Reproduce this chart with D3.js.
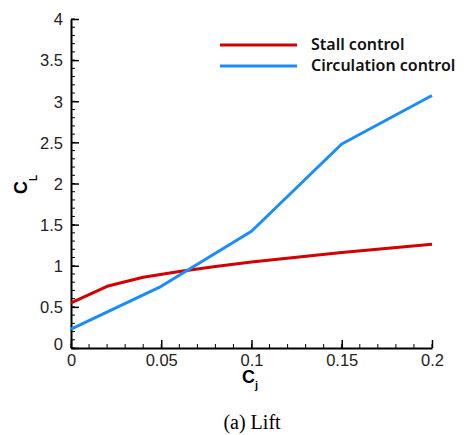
<!DOCTYPE html>
<html>
<head>
<meta charset="utf-8">
<script src="https://cdn.jsdelivr.net/npm/d3@7"></script>
<style>
  body { margin: 0; background: #fff; }
</style>
</head>
<body>
<div id="chart"></div>
<script>
// chart data
const stallX = [0, 0.02, 0.04, 0.06, 0.08, 0.1, 0.15, 0.2];
const stallY = [0.55, 0.75, 0.86, 0.93, 0.99, 1.045, 1.16, 1.26];
const circX = [0, 0.05, 0.1, 0.15, 0.2];
const circY = [0.23, 0.75, 1.42, 2.48, 3.07];
const xTicks = [0, 0.05, 0.1, 0.15, 0.2];
const yTicks = [0, 0.5, 1, 1.5, 2, 2.5, 3, 3.5, 4];
const seriesNames = ["Stall control", "Circulation control"];
const seriesColors = ["#d20000", "#1a8cff"];

const width = 464;
const height = 435;

const svg = d3.select("#chart")
  .append("svg")
  .attr("width", width)
  .attr("height", height);

// scales
const x = d3.scaleLinear().domain([0, 0.2]).range([71, 432]);
const y = d3.scaleLinear().domain([0, 4]).range([348, 19]);

// minor ticks (inward)
const xMinor = d3.range(0, 0.2001, 0.01);
const yMinor = d3.range(0, 4.001, 0.1);

svg.append("g")
  .selectAll("line")
  .data(xMinor)
  .enter()
  .append("line")
  .attr("x1", d => x(d))
  .attr("x2", d => x(d))
  .attr("y1", y(0))
  .attr("y2", y(0) - 4)
  .attr("stroke", "#000")
  .attr("stroke-width", 1);

svg.append("g")
  .selectAll("line")
  .data(yMinor)
  .enter()
  .append("line")
  .attr("x1", x(0))
  .attr("x2", x(0) + 4)
  .attr("y1", d => y(d))
  .attr("y2", d => y(d))
  .attr("stroke", "#000")
  .attr("stroke-width", 1);

// major axes, ticks point into the plot
const xAxis = svg.append("g")
  .attr("transform", `translate(0,${y(0)})`)
  .call(d3.axisBottom(x).tickValues(xTicks).tickSizeInner(-8).tickSizeOuter(0)
    .tickPadding(6).tickFormat(d => String(d)));

const yAxis = svg.append("g")
  .attr("transform", `translate(${x(0)},0)`)
  .call(d3.axisLeft(y).tickValues(yTicks).tickSizeInner(-8).tickSizeOuter(0)
    .tickPadding(8).tickFormat(d => String(d)));

[xAxis, yAxis].forEach(g => {
  g.select(".domain").attr("stroke-width", 2);
  g.selectAll(".tick line").attr("stroke-width", 1.5);
  g.selectAll(".tick text")
    .attr("font-family", "Liberation Sans, Arial, sans-serif")
    .attr("font-size", "16.5px")
    .attr("fill", "#222");
});
yAxis.selectAll(".tick text").attr("dy", "0.35em");
yAxis.selectAll(".tick").filter(d => d === 0).select("text").attr("dy", "0.1em");

// lines
const line = d3.line()
  .x(d => x(d[0]))
  .y(d => y(d[1]));

const series = [
  stallX.map((v, i) => [v, stallY[i]]),
  circX.map((v, i) => [v, circY[i]])
];

svg.selectAll(".series")
  .data(series)
  .enter()
  .append("path")
  .attr("class", "series")
  .attr("d", line)
  .attr("fill", "none")
  .attr("stroke", (d, i) => seriesColors[i])
  .attr("stroke-width", 3)
  .attr("stroke-linejoin", "round");

// legend
const legend = svg.append("g");
legend.selectAll("line")
  .data(seriesNames)
  .enter()
  .append("line")
  .attr("x1", 220)
  .attr("x2", 297)
  .attr("y1", (d, i) => 45 + i * 21)
  .attr("y2", (d, i) => 45 + i * 21)
  .attr("stroke", (d, i) => seriesColors[i])
  .attr("stroke-width", 3);

legend.selectAll("text")
  .data(seriesNames)
  .enter()
  .append("text")
  .attr("x", 311)
  .attr("y", (d, i) => 50 + i * 21)
  .text(d => d)
  .attr("font-family", "Noto Sans, sans-serif")
  .attr("font-weight", "600")
  .attr("font-size", "16px")
  .attr("fill", "#111");

// axis titles
const cl = svg.append("text")
  .attr("transform", "translate(27,194) rotate(-90)")
  .attr("font-family", "Liberation Sans, Arial, sans-serif")
  .attr("font-weight", "bold")
  .attr("font-size", "18px");
cl.append("tspan").text("C");
cl.append("tspan").text("L").attr("font-size", "10px").attr("dy", "10");

const cj = svg.append("text")
  .attr("x", 242)
  .attr("y", 383)
  .attr("font-family", "Liberation Sans, Arial, sans-serif")
  .attr("font-weight", "bold")
  .attr("font-size", "18px");
cj.append("tspan").text("C");
cj.append("tspan").text("j").attr("font-size", "11px").attr("dy", "6");

// caption
svg.append("text")
  .attr("x", 252)
  .attr("y", 429)
  .attr("text-anchor", "middle")
  .attr("font-family", "Liberation Serif, Times New Roman, serif")
  .attr("font-size", "20px")
  .text("(a) Lift");
</script>
</body>
</html>
